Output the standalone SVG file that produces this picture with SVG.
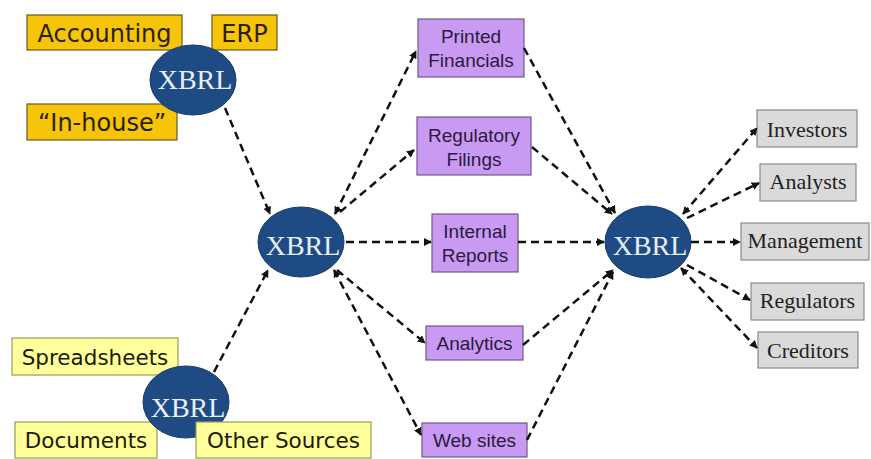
<svg xmlns="http://www.w3.org/2000/svg" width="871" height="459" viewBox="0 0 871 459">
  <defs>
    <marker id="arrow" viewBox="0 0 10 10" refX="9" refY="5" markerWidth="8" markerHeight="8" markerUnits="userSpaceOnUse" orient="auto-start-reverse">
      <path d="M0,0 L10,5 L0,10 z" fill="#111"/>
    </marker>
    <style>
      .src-gold rect { fill: #F6C409; stroke: #6b5a1e; stroke-width: 1.2; }
      .src-gold text { font-family: "DejaVu Sans", Verdana, sans-serif; font-size: 24px; fill: #2a1f00; text-anchor: middle; }
      .src-pale rect { fill: #FFFF9C; stroke: #9a9a5c; stroke-width: 1.2; }
      .src-pale text { font-family: "DejaVu Sans", Verdana, sans-serif; font-size: 21.5px; fill: #1c1a00; text-anchor: middle; }
      .hub ellipse { fill: #1F4B84; stroke: #163a68; stroke-width: 1; }
      .hub text { font-family: "Liberation Serif", "Times New Roman", serif; font-size: 28px; fill: #E8EFF9; text-anchor: middle; }
      .out rect { fill: #C99AF2; stroke: #6e5a88; stroke-width: 1.2; }
      .out text { font-family: "Liberation Sans", Arial, sans-serif; font-size: 19px; fill: #2a1a40; text-anchor: middle; }
      .user rect { fill: #DADADA; stroke: #8a8a8a; stroke-width: 1.2; }
      .user text { font-family: "Liberation Serif", "Times New Roman", serif; font-size: 22px; fill: #222; text-anchor: middle; }
      .conn path { fill: none; stroke: #111; stroke-width: 2.5; stroke-dasharray: 8 5; marker-end: url(#arrow); }
      .conn path.both { marker-start: url(#arrow); }
    </style>
  </defs>
  <rect width="871" height="459" fill="#ffffff"/>

  <!-- source systems, top -->
  <g id="accounting" class="src-gold">
    <rect x="27" y="15" width="155" height="35"/>
    <text x="104.5" y="42">Accounting</text>
  </g>
  <g id="erp" class="src-gold">
    <rect x="212" y="15" width="65" height="35"/>
    <text x="244.5" y="42">ERP</text>
  </g>
  <g id="inhouse" class="src-gold">
    <rect x="27" y="104" width="150" height="36"/>
    <text x="102" y="131">“In-house”</text>
  </g>
  <g id="xbrl-top" class="hub">
    <ellipse cx="193" cy="80" rx="43" ry="35"/>
    <text x="195" y="89">XBRL</text>
  </g>

  <!-- source systems, bottom -->
  <g id="spreadsheets" class="src-pale">
    <rect x="12" y="338" width="166" height="37"/>
    <text x="95" y="365">Spreadsheets</text>
  </g>
  <g id="documents" class="src-pale">
    <rect x="15" y="422" width="142" height="36"/>
    <text x="86" y="448">Documents</text>
  </g>
  <g id="xbrl-bottom" class="hub">
    <ellipse cx="186" cy="402" rx="43" ry="36"/>
    <text x="188" y="417">XBRL</text>
  </g>
  <g id="other-sources" class="src-pale">
    <rect x="196" y="422" width="175" height="36"/>
    <text x="283.5" y="448">Other Sources</text>
  </g>

  <!-- central hub -->
  <g id="xbrl-center" class="hub">
    <ellipse cx="301" cy="242" rx="43" ry="35"/>
    <text x="303" y="255">XBRL</text>
  </g>

  <!-- outputs -->
  <g id="printed-financials" class="out">
    <rect x="418" y="19" width="106" height="58"/>
    <text x="471" y="43">Printed</text>
    <text x="471" y="67">Financials</text>
  </g>
  <g id="regulatory-filings" class="out">
    <rect x="417" y="117" width="114" height="58"/>
    <text x="474" y="142">Regulatory</text>
    <text x="474" y="166">Filings</text>
  </g>
  <g id="internal-reports" class="out">
    <rect x="432" y="214" width="86" height="58"/>
    <text x="475" y="238">Internal</text>
    <text x="475" y="262">Reports</text>
  </g>
  <g id="analytics" class="out">
    <rect x="426" y="326" width="97" height="34"/>
    <text x="474.5" y="350">Analytics</text>
  </g>
  <g id="web-sites" class="out">
    <rect x="422" y="423" width="105" height="34"/>
    <text x="474.5" y="447">Web sites</text>
  </g>

  <!-- consuming hub -->
  <g id="xbrl-right" class="hub">
    <ellipse cx="648" cy="242" rx="43" ry="36"/>
    <text x="650" y="255">XBRL</text>
  </g>

  <!-- users -->
  <g id="investors" class="user">
    <rect x="757" y="110" width="100" height="37"/>
    <text x="807" y="137">Investors</text>
  </g>
  <g id="analysts" class="user">
    <rect x="760" y="164" width="96" height="37"/>
    <text x="808" y="189">Analysts</text>
  </g>
  <g id="management" class="user">
    <rect x="741" y="223" width="128" height="37"/>
    <text x="805" y="248">Management</text>
  </g>
  <g id="regulators" class="user">
    <rect x="751" y="283" width="113" height="37"/>
    <text x="807.5" y="308">Regulators</text>
  </g>
  <g id="creditors" class="user">
    <rect x="758" y="332" width="100" height="36"/>
    <text x="808" y="358">Creditors</text>
  </g>

  <!-- dashed flows -->
  <g id="connectors" class="conn">
    <path d="M225,108 L270,214"/>
    <path d="M214,372 L268,270"/>
    <path class="both" d="M335,214 L416,51"/>
    <path d="M340,212 L414,150"/>
    <path d="M346,242 L431,242"/>
    <path d="M337,270 L425,343"/>
    <path class="both" d="M334,270 L421,435"/>
    <path d="M524,48 L615,213"/>
    <path d="M532,147 L612,214"/>
    <path d="M518,242 L604,242"/>
    <path d="M523,345 L613,270"/>
    <path d="M527,440 L613,272"/>
    <path class="both" d="M683,214 L757,128"/>
    <path d="M687,218 L759,183"/>
    <path d="M691,242 L740,242"/>
    <path d="M687,265 L750,300"/>
    <path class="both" d="M681,268 L757,348"/>
  </g>
</svg>
